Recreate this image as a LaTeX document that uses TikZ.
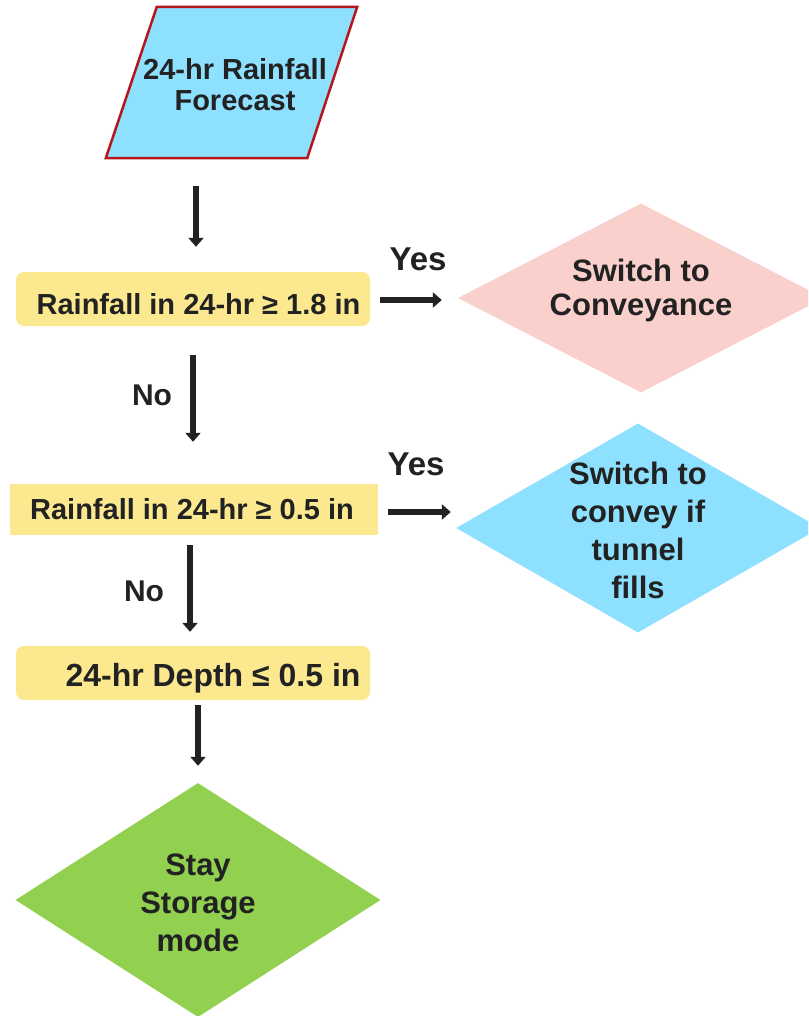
\documentclass[tikz,border=0pt]{standalone}
\usepackage{fontspec}
\setmainfont{Liberation Sans}
\usetikzlibrary{arrows.meta,shapes.geometric}
\definecolor{skyfill}{HTML}{8EE0FF}
\definecolor{pinkfill}{HTML}{F9D0CC}
\definecolor{sandfill}{HTML}{FCE98F}
\definecolor{leaffill}{HTML}{92D050}
\definecolor{frame}{HTML}{B5161B}
\definecolor{ink}{HTML}{222222}
\tikzset{
  txt/.style={text=ink, font=\bfseries\fontsize{29}{31}\selectfont, align=center},
  bigtxt/.style={text=ink, font=\bfseries\fontsize{31}{38}\selectfont, align=center},
  cond/.style={fill=sandfill, inner sep=0pt},
  choice/.style={shape=diamond, inner sep=0pt, draw=none},
  arr/.style={draw=ink, line width=6.5pt, -{Triangle[width=15pt,length=9pt]}},
  ans/.style={text=ink, font=\bfseries\fontsize{30}{34}\selectfont},
}
\begin{document}
\begin{tikzpicture}[x=1pt,y=-1pt]
\useasboundingbox (0,0) rectangle (808,1016);
\clip (0,0) rectangle (808,1016);

% input: forecast
\node[minimum width=251pt, minimum height=151pt, inner sep=0pt] (fc) at (231.5,82.5) {};
\draw[fill=skyfill, draw=frame, line width=2.5pt, line join=miter]
  ([xshift=51pt]fc.north west) -- (fc.north east) -- ([xshift=-50pt]fc.south east)
  -- (fc.south west) -- cycle;
\node[txt] (fct) at (235,85) {24-hr Rainfall\\Forecast};

% conditions
\node[cond, rounded corners=8pt, minimum width=354pt, minimum height=54pt] (b1) at (193,299) {};
\node[txt] (b1t) at (198.5,304) {Rainfall in 24-hr ≥ 1.8 in};
\node[cond, minimum width=368pt, minimum height=51pt] (b2) at (194,509.5) {};
\node[txt] (b2t) at (192,509.5) {Rainfall in 24-hr ≥ 0.5 in};
\node[cond, rounded corners=8pt, minimum width=354pt, minimum height=54pt] (b3) at (193,673) {};
\node[txt, font=\bfseries\fontsize{32}{34}\selectfont] (b3t) at (213,678) {24-hr Depth ≤ 0.5 in};

% outcomes
\node[choice, fill=pinkfill, minimum width=366pt, minimum height=189pt] (d1) at (641,298) {};
\node[bigtxt, font=\bfseries\fontsize{31}{34}\selectfont] (d1t) at (641,290) {Switch to\\Conveyance};
\node[choice, fill=skyfill, minimum width=364pt, minimum height=209pt] (d2) at (638,528) {};
\node[bigtxt] (d2t) at (638,530) {Switch to\\convey if\\tunnel\\fills};
\node[choice, fill=leaffill, minimum width=365pt, minimum height=234pt] (d3) at (198,900) {};
\node[bigtxt] (d3t) at (198,903) {Stay\\Storage\\mode};

% branch labels
\node[ans, font=\bfseries\fontsize{33}{36}\selectfont] (y1) at (418,259) {Yes};
\node[ans, font=\bfseries\fontsize{33}{36}\selectfont] (y2) at (416,464) {Yes};
\node[ans] (n1) at (152,395) {No};
\node[ans] (n2) at (144,591) {No};

% connectors
\draw[arr, shorten <=28pt, shorten >=25pt] ([xshift=3pt]fc.south -| b1.north) -- ([xshift=3pt]b1.north);
\draw[arr, shorten <=10pt, shorten >=16pt] ([yshift=-1pt]b1.east) -- ([yshift=-1pt]b1.east -| d1.west);
\draw[arr, shorten <=29pt, shorten >=42pt] (b1.south) -- (b1.south |- b2.north);
\draw[arr, shorten <=10pt, shorten >=5pt] ([yshift=-2.5pt]b2.east) -- ([yshift=-2.5pt]b2.east -| d2.west);
\draw[arr, shorten <=10pt, shorten >=14pt] ([xshift=-4pt]b2.south) -- ([xshift=-4pt]b2.south |- b3.north);
\draw[arr, shorten <=5pt, shorten >=17pt] (b3.south -| d3.north) -- (d3.north);
\end{tikzpicture}
\end{document}
